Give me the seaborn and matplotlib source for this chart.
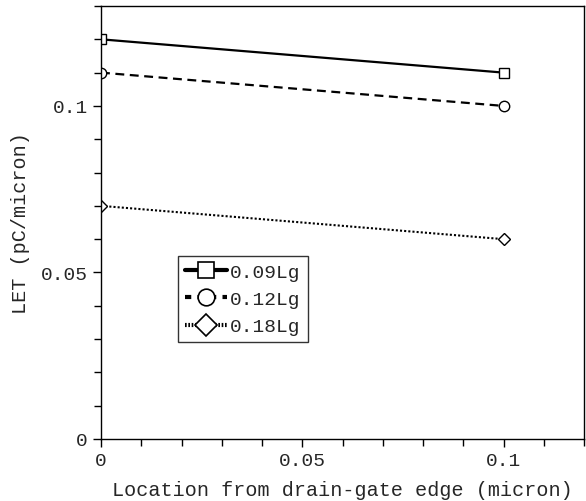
import matplotlib
matplotlib.use("Agg")
import matplotlib.pyplot as plt
import seaborn as sns
import pandas as pd
from matplotlib.ticker import MultipleLocator

location = [0.0, 0.1]
series_names = ["0.09Lg", "0.12Lg", "0.18Lg"]
let_009 = [0.12, 0.11]
let_012 = [0.11, 0.10]
let_018 = [0.07, 0.06]

sns.set_theme(style="ticks")
plt.rcParams['font.family'] = ['Liberation Mono', 'DejaVu Sans Mono']

fig = plt.figure(figsize=(5.86, 5.02), dpi=100)
ax = fig.add_axes([101/586, 1-440/502, (584-101)/586, (440-7)/502])

styles = [("s", "-", 1.6), ("o", (0, (4, 2.5)), 1.6), ("D", (0, (1, 1)), 1.5)]
for name, vals, (mk, ls, lw) in zip(series_names, [let_009, let_012, let_018], styles):
    df = pd.DataFrame({"x": location, "y": vals})
    sns.lineplot(data=df, x="x", y="y", ax=ax, color="black", linestyle=ls, lw=lw,
                 marker=mk, markersize=7.5 if mk != "D" else 6.5, markerfacecolor="white",
                 markeredgecolor="black", markeredgewidth=1.0, label=name)

ax.set_xlim(0, 0.12)
ax.set_ylim(0, 0.13)
ax.set_xticks([0, 0.05, 0.1])
ax.set_xticklabels(["0", "0.05", "0.1"])
ax.set_yticks([0, 0.05, 0.1])
ax.set_yticklabels(["0", "0.05", "0.1"])
ax.xaxis.set_minor_locator(MultipleLocator(0.01))
ax.yaxis.set_minor_locator(MultipleLocator(0.01))
ax.tick_params(which="both", direction="out", width=1, color="black", labelsize=14)
ax.tick_params(which="major", length=6)
ax.tick_params(which="minor", length=5)
for sp in ax.spines.values():
    sp.set_visible(True)
    sp.set_linewidth(1.0)
    sp.set_color("black")

ax.set_xlabel("Location from drain-gate edge (micron)", fontsize=14.5, labelpad=8)
ax.set_ylabel("LET (pC/micron)", fontsize=14.5, labelpad=8)

leg = ax.legend(loc="upper left", bbox_to_anchor=(0.159, 0.422), frameon=True, fancybox=False,
                edgecolor="black", fontsize=14, handlelength=2.2, handletextpad=0.15,
                borderpad=0.35, labelspacing=0.5, borderaxespad=0)
leg.get_frame().set_linewidth(1.0)
leg_dashes = ["-", (0, (1.5, 1.5)), (0, (0.4, 0.4))]
leg_ms = [12, 12, 11]
for ln, ds, ms in zip(leg.get_lines(), leg_dashes, leg_ms):
    ln.set_linewidth(3)
    ln.set_linestyle(ds)
    ln.set_markersize(ms)
    ln.set_markeredgewidth(1.2)

fig.savefig("out.png", dpi=100)
